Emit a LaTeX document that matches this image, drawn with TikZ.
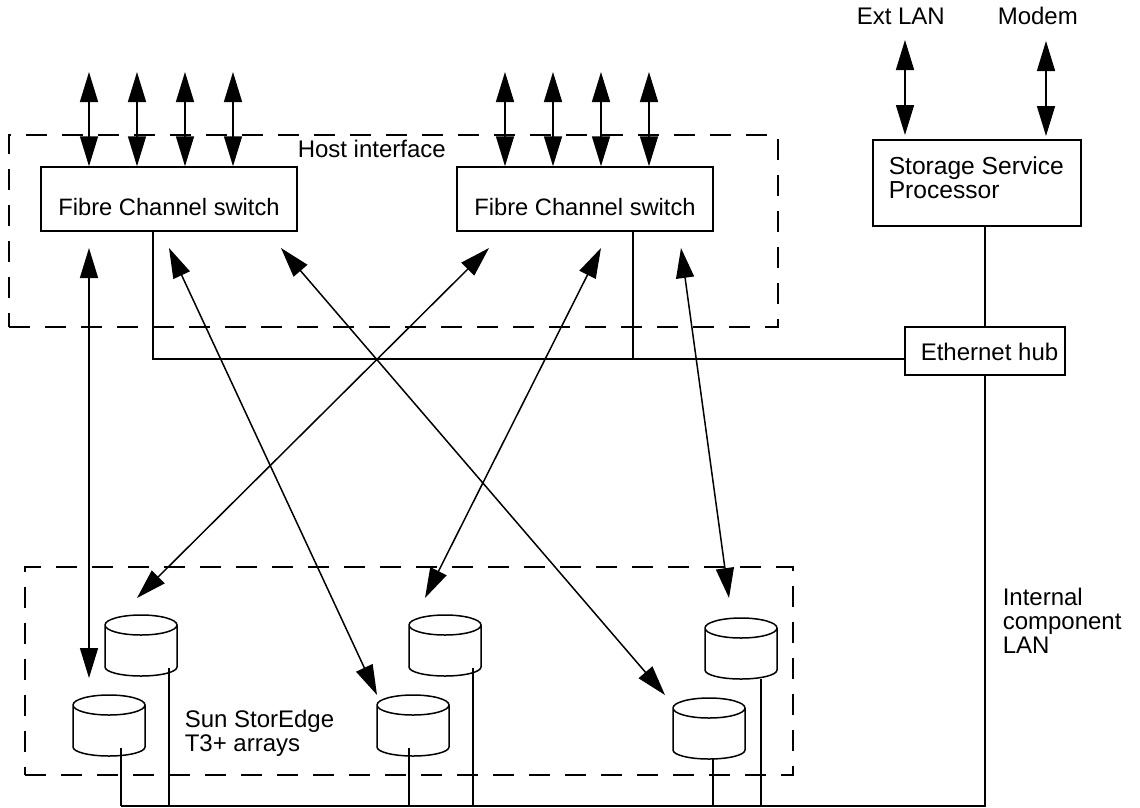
\documentclass[tikz,border=0pt]{standalone}
\usepackage{fontspec}
\setmainfont{Liberation Sans}
\usetikzlibrary{arrows.meta}
\tikzset{
  x=1pt,y=1pt,
  every path/.style={line width=1.5pt},
  every node/.style={font=\fontsize{24}{24}\selectfont},
  dbl/.style={{Triangle[length=30pt,width=18pt]}-{Triangle[length=30pt,width=18pt]}},
  wire/.style={draw},
  box/.style={draw,rectangle,inner sep=0pt,fill=white},
  fcbox/.style={box,minimum width=256pt,minimum height=64pt,text height=32pt,text depth=0pt,font=\fontsize{23.7}{24}\selectfont},
  group/.style={draw,rectangle,inner sep=0pt,dash pattern=on 21pt off 15pt},
  lab/.style={inner sep=0pt,anchor=base west,align=left},
  ssplab/.style={lab,font=\fontsize{24.6}{24}\selectfont},
  disk/.style={rectangle,minimum width=72pt,minimum height=61pt,inner sep=0pt,outer sep=0pt},
  diskline/.style={draw,fill=white,line join=round},
}
\newcommand{\diskshape}[1]{%
  \path[diskline] ([yshift=-10pt]#1.north west)
    arc[start angle=180,end angle=360,x radius=36,y radius=10]
    arc[start angle=0,end angle=180,x radius=36,y radius=10]
    -- ([yshift=9pt]#1.south west)
    arc[start angle=180,end angle=360,x radius=36,y radius=9]
    -- ([yshift=-10pt]#1.north east);
}
\begin{document}
\begin{tikzpicture}
\useasboundingbox (0,0) rectangle (1140,-807);
% groups
\node[group,minimum width=769pt,minimum height=192pt] (host) at (393.5,-231) {};
\node[group,minimum width=768pt,minimum height=208pt] (arrays) at (409,-671) {};
% boxes
\node[fcbox] (fc1) at (169,-199) {Fibre Channel switch};
\node[fcbox] (fc2) at (585,-199) {Fibre Channel switch};
\node[box,minimum width=208pt,minimum height=86pt] (ssp) at (977,-183) {};
\node[box,minimum width=160pt,minimum height=48pt,text height=18pt,text depth=0pt] (hub) at (985,-351) {\hspace*{9pt}Ethernet hub};
% labels
\node[lab] (hostl) at (297,-157) {Host interface};
\node[ssplab] (sspl1) at (888,-174) {Storage Service};
\node[ssplab] (sspl2) at (888,-198) {Processor};
\node[lab] (extl) at (856,-24) {Ext LAN};
\node[lab] (modl) at (997,-24) {Modem};
\node[lab] (t1) at (184,-727) {Sun StorEdge};
\node[lab] (t2) at (184,-751) {T3+ arrays};
\node[lab] (i1) at (1002,-605) {Internal};
\node[lab] (i2) at (1002,-629) {component};
\node[lab] (i3) at (1002,-653) {LAN};
% disks
\node[disk] (d1u) at (141,-645.5) {};
\node[disk] (d1l) at (109,-725.5) {};
\node[disk] (d2u) at (445,-645.5) {};
\node[disk] (d2l) at (413,-725.5) {};
\node[disk] (d3u) at (741,-648.5) {};
\node[disk] (d3l) at (709,-728.5) {};
\foreach \d in {d1u,d1l,d2u,d2l,d3u,d3l}{\diskshape{\d}}
% host arrows
\foreach \n/\x/\b in {a/89/fc1,b/137/fc1,c/185/fc1,d/233/fc1,e/505/fc2,f/553/fc2,g/601/fc2,h/649/fc2}{
  \coordinate (top\n) at (\x,-72);
  \draw[dbl] (top\n) -- (top\n |- \b.north);
}
\coordinate (extt) at (905,-40);
\coordinate (extb) at (905,-135);
\coordinate (modt) at (1046,-41);
\coordinate (modb) at (1046,-136);
\draw[dbl] (extt) -- (extb);
\draw[dbl] (modt) -- (modb);
% cross arrows
\coordinate (p1) at (89,-248);   \coordinate (q1) at (89,-678);
\coordinate (p2) at (169,-248);  \coordinate (q2) at (377,-695);
\coordinate (p3) at (281,-248);  \coordinate (q3) at (665,-695);
\coordinate (p4) at (489,-248);  \coordinate (q4) at (137,-598);
\coordinate (p5) at (601,-248);  \coordinate (q5) at (425,-598);
\coordinate (p6) at (681,-248);  \coordinate (q6) at (729,-598);
\foreach \i in {1,...,6}{\draw[dbl] (p\i) -- (q\i);}
% ethernet
\coordinate (busl) at (153,-359);
\coordinate (busm) at (633,-359);
\coordinate (busr) at (905,-359);
\draw[wire] (busl |- fc1.south) -- (busl) -- (busr);
\draw[wire] (busm |- fc2.south) -- (busm);
\draw[wire] (ssp.south -| hub.north) -- (hub.north);
% internal LAN
\coordinate (lanl) at (121,-806);
\coordinate (lanr) at (985,-806);
\draw[wire] (hub.south) -- (lanr) -- (lanl);
\foreach \n/\x/\y in {d1l/121/748,d1u/169/668,d2l/409/748,d2u/473/668,d3l/713/759,d3u/761/679}{
  \coordinate (s\n) at (\x,-\y);
  \draw[wire] (s\n) -- (s\n |- lanl);
}
\end{tikzpicture}
\end{document}
